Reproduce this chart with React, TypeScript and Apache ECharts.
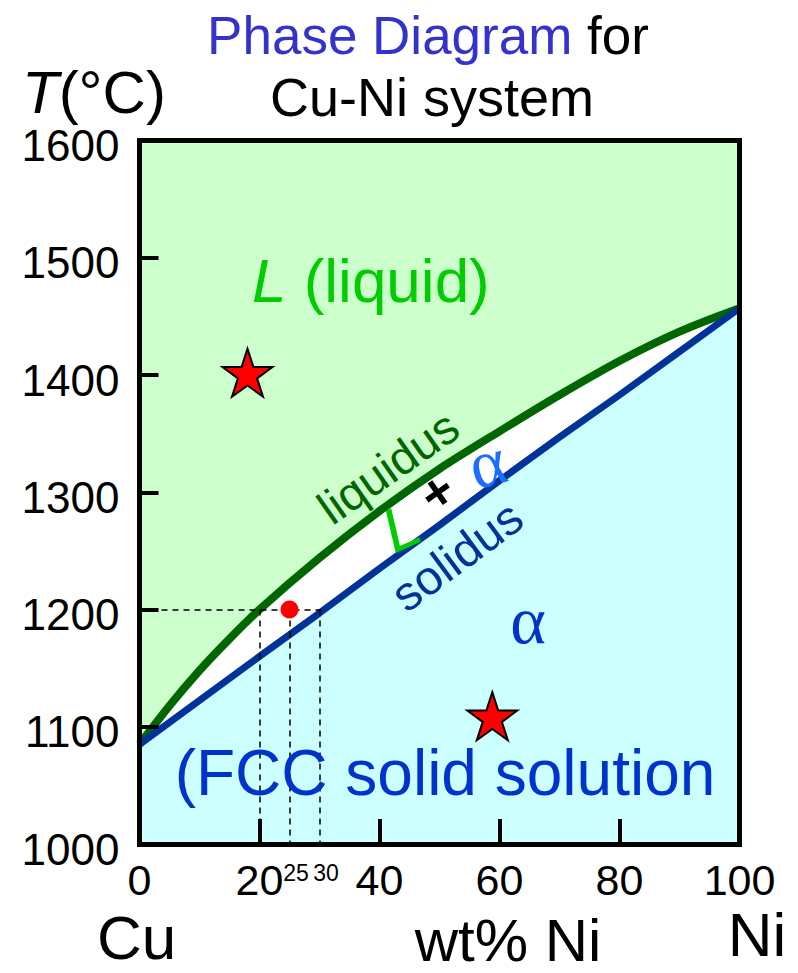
import React, { useEffect, useRef } from "react";
import * as echarts from "echarts";

// Cu-Ni binary phase diagram: composition (wt% Ni) vs temperature (°C)
const composition = [0, 5, 10, 15, 20, 30, 40, 50, 60, 70, 80, 90, 100];
const liquidusT = [1085, 1118, 1148, 1175, 1200, 1244, 1284, 1320, 1352, 1383, 1412, 1437, 1457];
const solidusComp = [0, 20, 30, 40, 50, 60, 70, 80, 90, 100];
const solidusT = [1085, 1160, 1197, 1235, 1272, 1310, 1347, 1383, 1420, 1457];

// marked state points
const starPoints = [
  [18, 1402],
  [58.8, 1109],
];
const alloyPoint = [25, 1200];

// tie line at 1200 °C and its compositions
const tieT = 1200;
const tieEndX = 31;
const tieX = [20, 25, 30];
const minorTickLabels = [25, 30];

const FONT = '"Liberation Sans", Arial, Helvetica, sans-serif';
const SERIF = '"Liberation Serif", "Times New Roman", serif';

const STAR =
  "path://M0,-100L22.45,-30.9L95.1,-30.9L36.33,11.8L58.78,80.9L0,38.2L-58.78,80.9L-36.33,11.8L-95.1,-30.9L-22.45,-30.9Z";

const deg = (d: number) => (d * Math.PI) / 180;

export default function App() {
  const ref = useRef<HTMLDivElement>(null);

  useEffect(() => {
    const chart = echarts.init(ref.current!, null, { renderer: "svg" });

    const frameLine = { show: true, onZero: false, lineStyle: { color: "#000", width: 5, cap: "square" } };
    const noSplit = { show: false };
    const plain = (v: number) => String(v);

    const txt = (x: number, y: number, text: string, extra: any = {}, rotation = 0) => ({
      type: "text",
      x,
      y,
      rotation,
      z: 100,
      silent: true,
      style: {
        text,
        fontFamily: FONT,
        fontSize: 44,
        fill: "#000",
        align: "center",
        verticalAlign: "middle",
        ...extra,
      },
    });

    chart.setOption({
      animation: false,
      backgroundColor: "#ffffff",
      grid: {
        left: 139.5,
        top: 140.6,
        width: 600,
        height: 703.4,
        outerBoundsMode: "none",
        containLabel: false,
      },
      xAxis: [
        {
          type: "value",
          min: 0,
          max: 100,
          interval: 20,
          position: "bottom",
          z: 10,
          axisLine: frameLine,
          axisTick: { show: true, inside: true, length: 25, lineStyle: { color: "#000", width: 4 } },
          axisLabel: { fontSize: 43, color: "#000", margin: 14, fontFamily: FONT, formatter: plain },
          splitLine: noSplit,
        },
        {
          type: "value",
          min: 0,
          max: 100,
          position: "top",
          z: 10,
          axisLine: frameLine,
          axisTick: { show: false },
          axisLabel: { show: false },
          splitLine: noSplit,
        },
        {
          type: "value",
          min: 0,
          max: 100,
          position: "bottom",
          z: 10,
          axisLine: { show: false },
          axisTick: { show: false },
          axisLabel: {
            customValues: minorTickLabels,
            fontSize: 23,
            color: "#000",
            margin: 17,
            fontFamily: FONT,
            formatter: plain,
            padding: [0, 0, 0, 13],
          },
          splitLine: noSplit,
        },
      ],
      yAxis: [
        {
          type: "value",
          min: 1000,
          max: 1600,
          interval: 100,
          position: "left",
          z: 10,
          axisLine: frameLine,
          axisTick: { show: true, inside: true, length: 19, lineStyle: { color: "#000", width: 4 } },
          axisLabel: {
            fontSize: 44,
            color: "#000",
            margin: 20,
            fontFamily: FONT,
            formatter: plain,
            verticalAlign: "top",
            lineHeight: 10,
          },
          splitLine: noSplit,
        },
        {
          type: "value",
          min: 1000,
          max: 1600,
          position: "right",
          z: 10,
          axisLine: frameLine,
          axisTick: { show: false },
          axisLabel: { show: false },
          splitLine: noSplit,
        },
      ],
      series: [
        {
          name: "liquidus",
          type: "line",
          xAxisIndex: 0,
          yAxisIndex: 0,
          data: composition.map((c, i) => [c, liquidusT[i]]),
          smooth: 0.3,
          symbol: "none",
          z: 3,
          lineStyle: { color: "#006600", width: 8 },
          areaStyle: { origin: "end", color: "#ccffcc", opacity: 1 },
        },
        {
          name: "solidus",
          type: "line",
          xAxisIndex: 0,
          yAxisIndex: 0,
          data: solidusComp.map((c, i) => [c, solidusT[i]]),
          symbol: "none",
          z: 3,
          lineStyle: { color: "#003399", width: 7 },
          areaStyle: { origin: "start", color: "#ccffff", opacity: 1 },
        },
        {
          name: "tie line",
          type: "line",
          xAxisIndex: 0,
          yAxisIndex: 0,
          data: [],
          z: 4,
          markLine: {
            silent: true,
            symbol: ["none", "none"],
            label: { show: false },
            lineStyle: { type: [6, 5], color: "#000", width: 1.5 },
            data: [
              [{ coord: [0, tieT] }, { coord: [tieEndX, tieT] }],
              ...tieX.map((x) => [{ coord: [x, tieT] }, { coord: [x, 1000] }]),
            ],
          },
        },
        {
          name: "alloy",
          type: "scatter",
          xAxisIndex: 0,
          yAxisIndex: 0,
          data: [alloyPoint],
          symbol: "circle",
          symbolSize: 18,
          z: 6,
          itemStyle: { color: "#ff0000", opacity: 1 },
        },
        {
          name: "states",
          type: "scatter",
          xAxisIndex: 0,
          yAxisIndex: 0,
          data: starPoints,
          symbol: STAR,
          symbolSize: [50, 48],
          z: 6,
          itemStyle: { color: "#ff0000", borderColor: "#000", borderWidth: 2, opacity: 1 },
        },
      ],
      graphic: [
        txt(428, 35, "{b|Phase Diagram} for", {
          fontSize: 53,
          rich: { b: { fill: "#3333cc", fontSize: 53, fontFamily: FONT } },
        }),
        txt(432, 97, "Cu-Ni system", { fontSize: 54 }),
        txt(22, 92, "{i|T}(°C)", {
          fontSize: 60,
          align: "left",
          rich: { i: { fontStyle: "italic", fontSize: 60, fontFamily: FONT } },
        }),
        txt(252, 280, "{i|L} (liquid)", {
          fontSize: 62,
          fill: "#00cc00",
          align: "left",
          rich: { i: { fontStyle: "italic", fontSize: 62, fill: "#00cc00", fontFamily: FONT } },
        }),
        txt(388, 467, "liquidus", { fontSize: 47, fill: "#006600" }, deg(35)),
        txt(457, 556, "solidus", { fontSize: 48, fill: "#003399" }, deg(36.5)),
        txt(401, 527, "L", { fontSize: 62, fill: "#00cc00", fontStyle: "italic" }, deg(24)),
        txt(437, 492, "+", { fontSize: 52, fill: "#000", fontWeight: "bold" }, deg(35)),
        txt(487, 463, "α", { fontSize: 68, fill: "#1a6fff", fontFamily: SERIF }, deg(15)),
        txt(528, 620, "α", { fontSize: 68, fill: "#0033cc", fontFamily: SERIF }),
        txt(445, 773, "(FCC solid solution", { fontSize: 64, fill: "#0033cc" }),
        txt(97, 937, "Cu", { fontSize: 62, align: "left" }),
        txt(508, 940, "wt% Ni", { fontSize: 60 }),
        txt(757, 934, "Ni", { fontSize: 62 }),
      ],
    });

    return () => chart.dispose();
  }, []);

  return (
    <div
      ref={ref}
      style={{ position: "fixed", left: 0, top: 0, width: 798, height: 973, background: "#fff" }}
    />
  );
}
